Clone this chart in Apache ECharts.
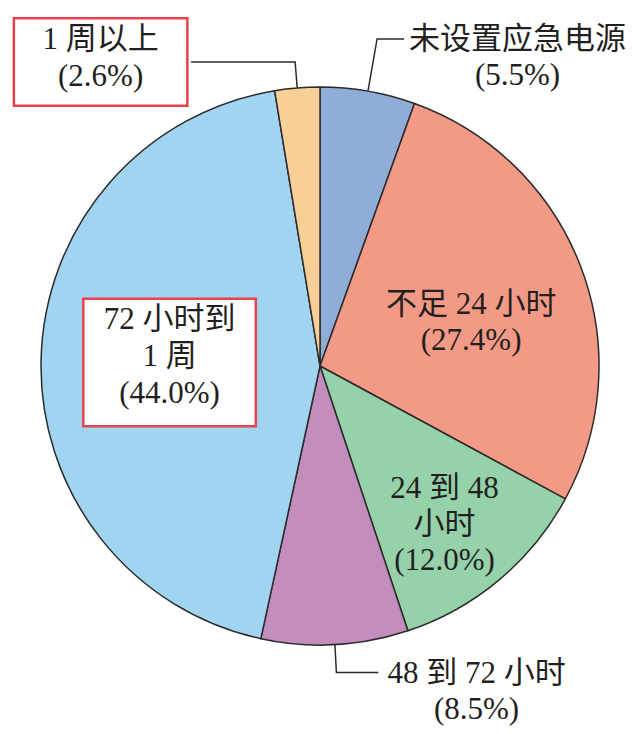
<!DOCTYPE html>
<html><head><meta charset="utf-8">
<script src="https://cdn.jsdelivr.net/npm/echarts@6/dist/echarts.min.js"></script>
<style>html,body{margin:0;padding:0;background:#fff}#c{width:642px;height:734px}</style>
</head><body><div id="c"></div>
<script>
const categories = ['未设置应急电源', '不足 24 小时', '24 到 48 小时', '48 到 72 小时', '72 小时到 1 周', '1 周以上'];
const labelTexts = [['未设置应急电源'], ['不足 24 小时'], ['24 到 48', '小时'], ['48 到 72 小时'], ['72 小时到', '1 周'], ['1 周以上']];
const values = [5.5, 27.4, 12.0, 8.5, 44.0, 2.6];
const colors = ['#8fadd6', '#f39a86', '#95d1a9', '#c38dbd', '#a1d4f1', '#f9cf98'];

const FONT = '"Liberation Serif","Noto Sans CJK SC",serif';
const TEXT = '#231f20';
const baseRich = { a: { align: 'center', fontSize: 31, lineHeight: 36, fontFamily: FONT, color: TEXT } };
const boxRich = { a: { align: 'center', fontSize: 31, lineHeight: 37, fontFamily: FONT, color: TEXT } };

function fmt(i) {
  return labelTexts[i].concat(['(' + values[i].toFixed(1) + '%)']).map(s => '{a|' + s + '}').join('\n');
}

// label style per slice (presentation only)
const labelCfg = [
  { label: { position: 'outside', rich: baseRich }, labelLine: { show: true, length: 53, length2: 27 } },
  { label: { position: 'inside', rich: baseRich }, labelLine: { show: false } },
  { label: { position: 'inside', rich: baseRich }, labelLine: { show: false } },
  { label: { position: 'outside', rich: baseRich }, labelLine: { show: true, length: 28, length2: 42 } },
  { label: { position: 'inside', rich: boxRich, backgroundColor: '#fff', borderColor: '#e8434c', borderWidth: 2.5, width: 170, height: 125, padding: 0 }, labelLine: { show: false } },
  { label: { position: 'outside', rich: boxRich, backgroundColor: '#fff', borderColor: '#e8434c', borderWidth: 2.5, width: 171, height: 85, padding: 0 }, labelLine: { show: true, length: 26, length2: 104 } }
];
const offsets = [[0, 18, true], [18, 6], [33, 48], [4, 18, true], [-8, 0], [0, 0, true]];

const data = categories.map((name, i) => ({
  name: name,
  value: values[i],
  itemStyle: { color: colors[i] },
  label: Object.assign({ show: true, formatter: fmt(i) }, labelCfg[i].label),
  labelLine: labelCfg[i].labelLine
}));

const chart = echarts.init(document.getElementById('c'), null, { renderer: 'svg' });
chart.setOption({
  animation: false,
  backgroundColor: '#fff',
  series: [{
    type: 'pie',
    center: [320, 366],
    radius: [0, 279],
    startAngle: 90,
    clockwise: true,
    avoidLabelOverlap: false,
    itemStyle: { borderColor: '#2b2b2b', borderWidth: 1.5 },
    labelLine: { lineStyle: { color: '#2b2b2b', width: 1.5 }, smooth: false },
    label: { color: TEXT, fontFamily: FONT, fontSize: 31 },
    emphasis: { disabled: true },
    labelLayout: function (p) {
      const o = offsets[p.dataIndex];
      const r = { dx: o[0], dy: o[1] };
      if (o[2] && p.labelLinePoints) r.labelLinePoints = p.labelLinePoints;
      return r;
    },
    data: data
  }]
});
</script>
</body></html>
